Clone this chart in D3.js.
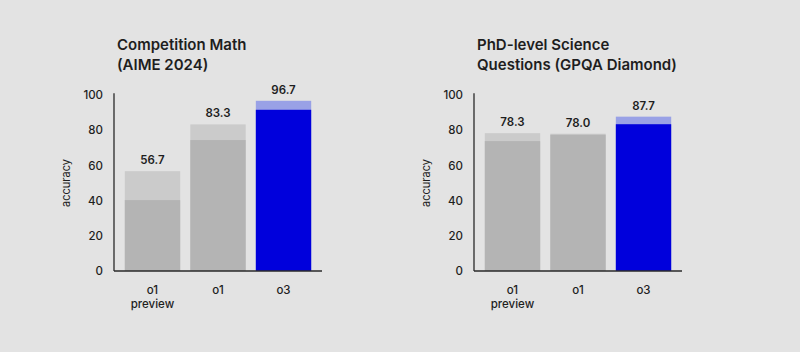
<!DOCTYPE html>
<html>
<head>
<meta charset="utf-8">
<script src="https://cdn.jsdelivr.net/npm/d3@7"></script>
<style>
  html, body { margin: 0; padding: 0; background: #e3e3e3; }
  svg { display: block; font-family: Inter, "Noto Sans", sans-serif; }
</style>
</head>
<body>
<svg id="chart" width="800" height="352"></svg>
<script>
// models on the x axis (second line of label if any)
const models = ['o1 preview', 'o1', 'o3'];
const modelLines = [['o1', 'preview'], ['o1'], ['o3']];

// AIME 2024: full bar (consensus) and inner bar (single sample)
const aimeTotal = [56.7, 83.3, 96.7];
const aimeInner = [40.3, 74.4, 91.6];

// GPQA Diamond
const gpqaTotal = [78.3, 78.0, 87.7];
const gpqaInner = [73.8, 77.4, 83.4];

const yTicks = [0, 20, 40, 60, 80, 100];

const colors = {
  lightGrey: '#cbcbcb',
  darkGrey: '#b4b4b4',
  lightBlue: '#99a1e6',
  blue: '#0000dc',
  axis: '#2a2a2a',
  text: '#1e1e1e'
};

const svg = d3.select('#chart');

const y = d3.scaleLinear().domain([0, 100]).range([271, 95]);

function drawPanel(left, titleLines, totals, inners) {
  const g = svg.append('g').attr('transform', `translate(${left},0)`);
  const width = 208;

  const x = d3.scaleBand()
    .domain(models)
    .range([0, width])
    .paddingInner(0.155)
    .paddingOuter(0.165);

  // title
  g.append('g').selectAll('text')
    .data(titleLines)
    .enter().append('text')
    .attr('x', 3)
    .attr('y', (d, i) => 50 + i * 20)
    .attr('font-size', '15px')
    .attr('font-weight', 600)
    .attr('fill', colors.text)
    .text(d => d);

  // bars
  const bars = g.append('g');
  models.forEach((m, i) => {
    const isO3 = m === 'o3';
    bars.append('rect')
      .attr('x', x(m))
      .attr('width', x.bandwidth())
      .attr('y', y(totals[i]))
      .attr('height', y(0) - y(totals[i]))
      .attr('fill', isO3 ? colors.lightBlue : colors.lightGrey);
    bars.append('rect')
      .attr('x', x(m))
      .attr('width', x.bandwidth())
      .attr('y', y(inners[i]))
      .attr('height', y(0) - y(inners[i]))
      .attr('fill', isO3 ? colors.blue : colors.darkGrey);
    bars.append('text')
      .attr('x', x(m) + x.bandwidth() / 2)
      .attr('y', y(totals[i]) - 7)
      .attr('text-anchor', 'middle')
      .attr('font-size', '11.5px')
      .attr('font-weight', 600)
      .attr('fill', colors.text)
      .text(totals[i].toFixed(1));
  });

  // y axis
  const yAxis = d3.axisLeft(y).tickValues(yTicks).tickSize(0).tickPadding(11);
  const ya = g.append('g').call(yAxis);
  ya.select('.domain').attr('stroke', colors.axis).attr('stroke-width', 1.3)
    .attr('d', `M0,${y(101)}V${y(0)}`);
  ya.selectAll('text')
    .attr('font-family', 'Inter, "Noto Sans", sans-serif')
    .attr('font-size', '11.5px')
    .attr('font-weight', 500)
    .attr('fill', colors.text);

  // baseline
  g.append('line')
    .attr('x1', 0).attr('x2', width)
    .attr('y1', y(0)).attr('y2', y(0))
    .attr('stroke', colors.axis)
    .attr('stroke-width', 1.3);

  // x labels
  models.forEach((m, i) => {
    const t = g.append('text')
      .attr('x', x(m) + x.bandwidth() / 2)
      .attr('y', 294)
      .attr('text-anchor', 'middle')
      .attr('font-size', '11.5px')
      .attr('font-weight', 500)
      .attr('fill', colors.text);
    modelLines[i].forEach((line, j) => {
      t.append('tspan')
        .attr('x', x(m) + x.bandwidth() / 2)
        .attr('dy', j === 0 ? 0 : 14)
        .text(line);
    });
  });

  // y label
  g.append('text')
    .attr('transform', `translate(-48,${(y(0) + y(100)) / 2}) rotate(-90)`)
    .attr('text-anchor', 'middle')
    .attr('dy', '0.35em')
    .attr('font-size', '11px')
    .attr('fill', colors.text)
    .text('accuracy');
}

drawPanel(114, ['Competition Math', '(AIME 2024)'], aimeTotal, aimeInner);
drawPanel(474, ['PhD-level Science', 'Questions (GPQA Diamond)'], gpqaTotal, gpqaInner);
</script>
</body>
</html>
